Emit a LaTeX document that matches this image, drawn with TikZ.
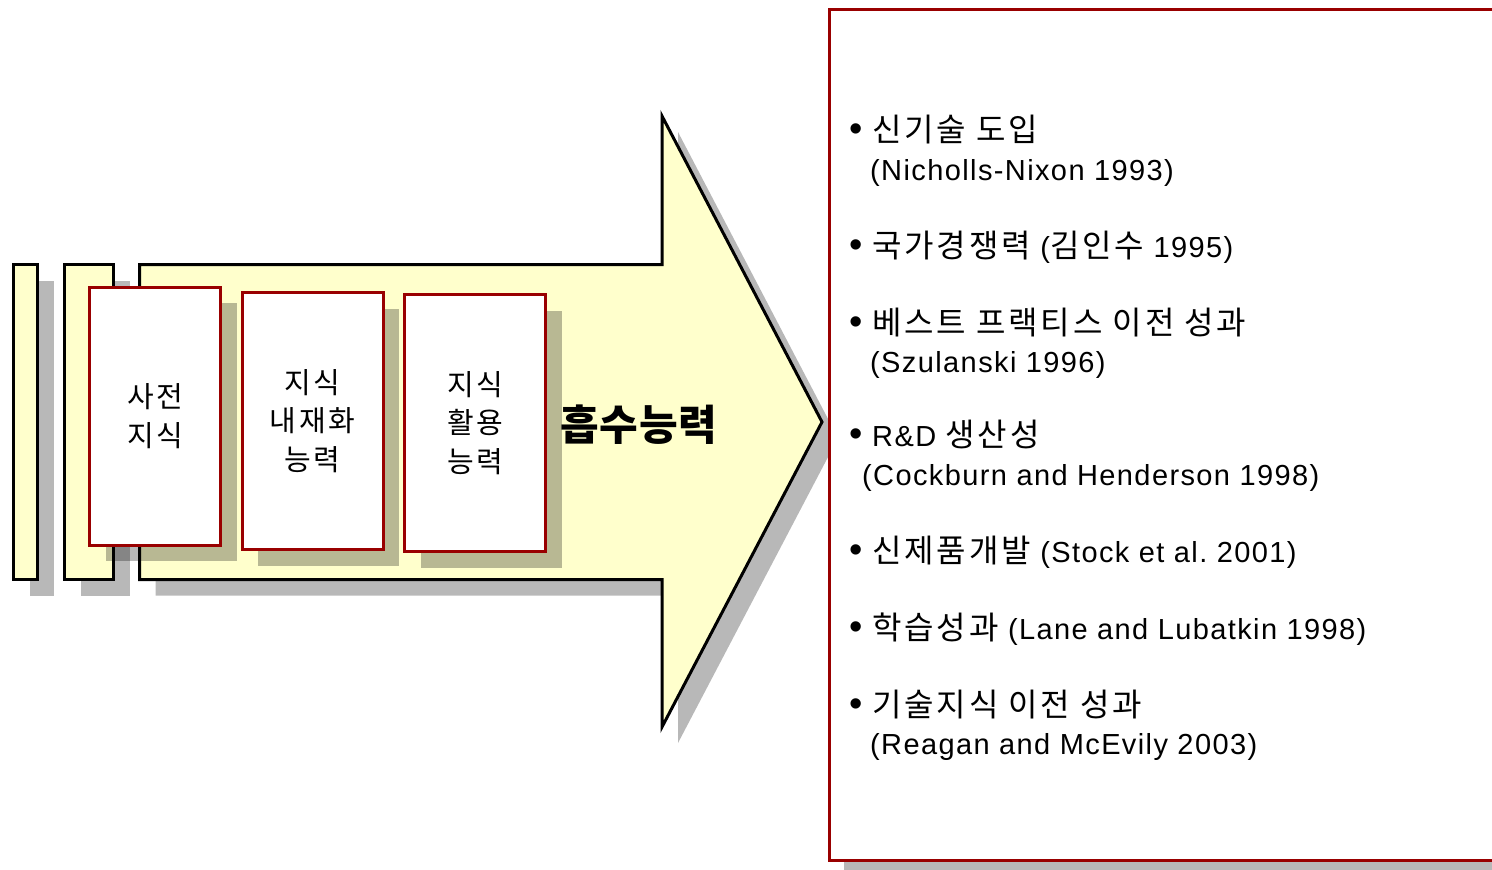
\documentclass[tikz,border=0pt]{standalone}
\usepackage{fontspec}
\setmainfont{Liberation Sans}[LetterSpace=4.8]
\newfontfamily\krlist{Noto Sans CJK KR}[LetterSpace=9]
\newfontfamily\krbox{Noto Sans CJK KR}[LetterSpace=9]
\newfontfamily\krbig{Noto Sans CJK KR}[LetterSpace=2]
\usetikzlibrary{shadows}
\definecolor{ylw}{RGB}{255,255,204}
\definecolor{dred}{RGB}{153,0,0}
\frenchspacing
\tikzset{
  shd/.style={drop shadow={shadow xshift=16pt, shadow yshift=-16pt, fill=black, opacity=0.28}},
  yelshape/.style={fill=ylw, draw=black, line width=3pt, line join=miter, shd},
  redbox/.style={fill=white, draw=dred, line width=3pt, shd, minimum width=#1, minimum height=258pt, inner sep=0pt, align=center,
    font=\krbox\fontsize{29}{38.5}\selectfont},
  listline/.style={anchor=base west, inner sep=0pt, font=\fontsize{29}{34}\selectfont},
}
\newcommand{\kl}[1]{{\krlist\fontsize{32}{34}\selectfont #1}}
\newcommand{\bul}{\makebox[23pt][l]{\fontsize{38}{38}\selectfont •}}
\begin{document}
\begin{tikzpicture}[x=1pt,y=-1pt]
\useasboundingbox (0,0) rectangle (1492,870);
\clip (0,0) rectangle (1492,870);
% left bars
\filldraw[yelshape] (13.5,264.5) rectangle (37.5,579.5);
\filldraw[yelshape] (64.5,264.5) rectangle (113.5,579.5);
% arrow
\filldraw[yelshape] (139.5,264.5) -- (662,264.5) -- (662,116) -- (822,422) -- (662,727) -- (662,579.5) -- (139.5,579.5) -- cycle;
% boxes
\node[redbox=131pt] (b1) at (155,416) {사전\\지식};
\node[redbox=141pt, minimum height=257pt] (b2) at (312.5,421) {지식\\내재화\\능력};
\node[redbox=141pt, minimum height=257pt] (b3) at (475,423) {지식\\활용\\능력};
\node[inner sep=0pt, font=\krbig\bfseries\fontsize{42}{44}\selectfont] (abs) at (639,425) {흡수능력};
% right box
\draw[dred, line width=3pt, fill=white, drop shadow={shadow xshift=14pt, shadow yshift=-14pt, fill=black, opacity=0.28}] (829.5,9.5) rectangle (1520,860);
% list
\node[listline] (l1) at (849,141) {\bul\kl{신기술 도입}};
\node[listline] (l1b) at (870,180) {(Nicholls-Nixon 1993)};
\node[listline] (l2) at (849,257) {\bul\kl{국가경쟁력} (\kl{김인수} 1995)};
\node[listline] (l3) at (849,334) {\bul\kl{베스트 프랙티스 이전 성과}};
\node[listline] (l3b) at (870,372) {(Szulanski 1996)};
\node[listline] (l4) at (849,446) {\bul R\&D \kl{생산성}};
\node[listline] (l4b) at (862,485) {(Cockburn and Henderson 1998)};
\node[listline] (l5) at (849,562) {\bul\kl{신제품개발} (Stock et al. 2001)};
\node[listline] (l6) at (849,639) {\bul\kl{학습성과} (Lane and Lubatkin 1998)};
\node[listline] (l7) at (849,716) {\bul\kl{기술지식 이전 성과}};
\node[listline] (l7b) at (870,754) {(Reagan and McEvily 2003)};
\end{tikzpicture}
\end{document}
